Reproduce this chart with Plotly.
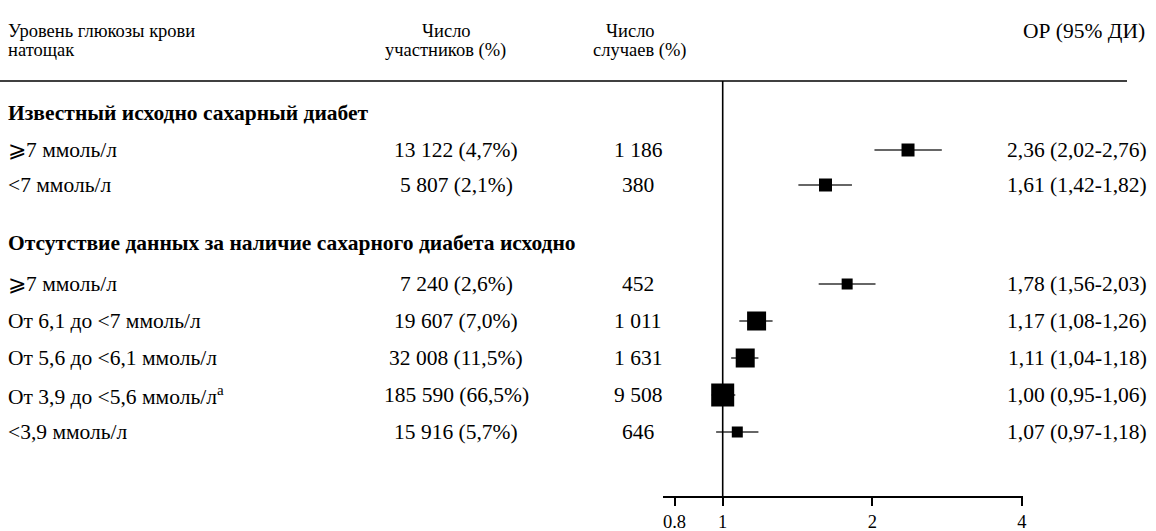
import math
import plotly.graph_objects as go

# ---------------- data ----------------
sections = ["Известный исходно сахарный диабет",
            "Отсутствие данных за наличие сахарного диабета исходно"]
row_section = [0, 0, 1, 1, 1, 1, 1]
labels = ["⩾7 ммоль/л", "<7 ммоль/л",
          "⩾7 ммоль/л", "От 6,1 до <7 ммоль/л", "От 5,6 до <6,1 ммоль/л",
          "От 3,9 до <5,6 ммоль/л<sup>a</sup>", "<3,9 ммоль/л"]
participants_n = [13122, 5807, 7240, 19607, 32008, 185590, 15916]
participants_pct = [4.7, 2.1, 2.6, 7.0, 11.5, 66.5, 5.7]
events = [1186, 380, 452, 1011, 1631, 9508, 646]
hr = [2.36, 1.61, 1.78, 1.17, 1.11, 1.00, 1.07]
hr_lo = [2.02, 1.42, 1.56, 1.08, 1.04, 0.95, 0.97]
hr_hi = [2.76, 1.82, 2.03, 1.26, 1.18, 1.06, 1.18]
tick_vals = [0.8, 1, 2, 4]
tick_text = ["0.8", "1", "2", "4"]

# ---------------- styles ----------------
W, H = 1156, 531
AXIS_Y = 496
marker_sizes = [13, 13, 11, 19, 19, 23, 11]
FONT = "Liberation Serif"
FS_HDR = 18.5
FS = 21.5
FS_BOLD = 21.5
FS_TICK = 18.5


def fmt_int(n):
    return f"{n:,}".replace(",", " ")


def fmt_dec(v, d=2):
    return f"{v:.{d}f}".replace(".", ",")


def esc(s):
    return s.replace("<sup>", "\x01").replace("</sup>", "\x02").replace("<", "&lt;") \
        .replace("\x01", "<sup>").replace("\x02", "</sup>")


# layout of rows (pixel positions along y)
heading_y = [113, 243]
first_gap = [37, 41]
pitch = [35, 37]
row_y = []
count = {0: 0, 1: 0}
for s in row_section:
    row_y.append(heading_y[s] + first_gap[s] + pitch[s] * count[s])
    count[s] += 1

fig = go.Figure()

# CI lines
ci_x, ci_y = [], []
for lo, hi, y in zip(hr_lo, hr_hi, row_y):
    ci_x += [lo, hi, None]
    ci_y += [y, y, None]
fig.add_trace(go.Scatter(x=ci_x, y=ci_y, mode="lines",
                         line=dict(color="#333333", width=1.6),
                         hoverinfo="skip", showlegend=False))
fig.add_trace(go.Scatter(x=hr, y=row_y, mode="markers",
                         marker=dict(symbol="square", size=marker_sizes,
                                     color="#000000", opacity=1,
                                     line=dict(width=0, color="#000000")),
                         opacity=1, showlegend=False))

# vertical reference line at 1
fig.add_shape(type="line", xref="x", yref="y", x0=1, x1=1, y0=81, y1=AXIS_Y,
              line=dict(color="black", width=1.6))
# header rule
fig.add_shape(type="line", xref="paper", yref="y", x0=0, x1=1127 / W, y0=81, y1=81,
              line=dict(color="black", width=1.6))

ann = []


def add(text, xpx, y, anchor="left", bold=False, size=FS):
    t = f"<b>{text}</b>" if bold else text
    ann.append(dict(text=t, x=xpx / W, xref="paper", y=y, yref="y",
                    xanchor=anchor, yanchor="middle", showarrow=False,
                    borderpad=0,
                    font=dict(family=FONT, size=size, color="black")))


# headers
add("Уровень глюкозы крови", 7, 31, size=FS_HDR)
add("натощак", 7, 50, size=FS_HDR)
add("Число", 446, 31, "center", size=FS_HDR)
add("участников (%)", 445, 50, "center", size=FS_HDR)
add("Число", 630, 31, "center", size=FS_HDR)
add("случаев (%)", 640, 50, "center", size=FS_HDR)
add("ОР (95% ДИ)", 1146, 31, "right", size=FS)

for s, name in enumerate(sections):
    add(name, 7, heading_y[s], bold=True, size=FS_BOLD)

for i, y in enumerate(row_y):
    add(esc(labels[i]), 7, y)
    add(f"{fmt_int(participants_n[i])} ({fmt_dec(participants_pct[i], 1)}%)", 456, y, "center")
    add(fmt_int(events[i]), 638, y, "center")
    add(f"{fmt_dec(hr[i])} ({fmt_dec(hr_lo[i])}-{fmt_dec(hr_hi[i])})", 1148, y, "right")

# x-axis geometry: 1 -> 722.7px, 2 -> 872.3px, domain 663..1023 px
px_per_dec = (872.3 - 722.7) / math.log10(2)
x_left, x_right = 663.3, 1022.7
rng = [(x_left - 722.7) / px_per_dec, (x_right - 722.7) / px_per_dec]

fig.update_layout(
    width=W, height=H,
    margin=dict(l=0, r=0, t=0, b=H - AXIS_Y),
    paper_bgcolor="white", plot_bgcolor="white",
    annotations=ann,
    font=dict(family=FONT, size=FS, color="black"),
    xaxis=dict(type="log", domain=[x_left / W, x_right / W], range=rng,
               tickvals=tick_vals, ticktext=tick_text,
               showgrid=False, zeroline=False, showline=True,
               linecolor="black", linewidth=1.6,
               ticks="outside", ticklen=8, tickwidth=1.6, tickcolor="black",
               tickfont=dict(family=FONT, size=FS_TICK, color="black"),
               automargin=False, fixedrange=True),
    yaxis=dict(range=[AXIS_Y, 0], visible=False, showgrid=False,
               zeroline=False, automargin=False, fixedrange=True),
    showlegend=False,
)

fig.write_html("out.html", config={"displayModeBar": False})

# remove the default page margin so the figure fills the window exactly
with open("out.html", "r", encoding="utf-8") as f:
    html = f.read()
html = html.replace("<head>", "<head><style>html,body{margin:0;padding:0;overflow:hidden;}</style>", 1)
with open("out.html", "w", encoding="utf-8") as f:
    f.write(html)
